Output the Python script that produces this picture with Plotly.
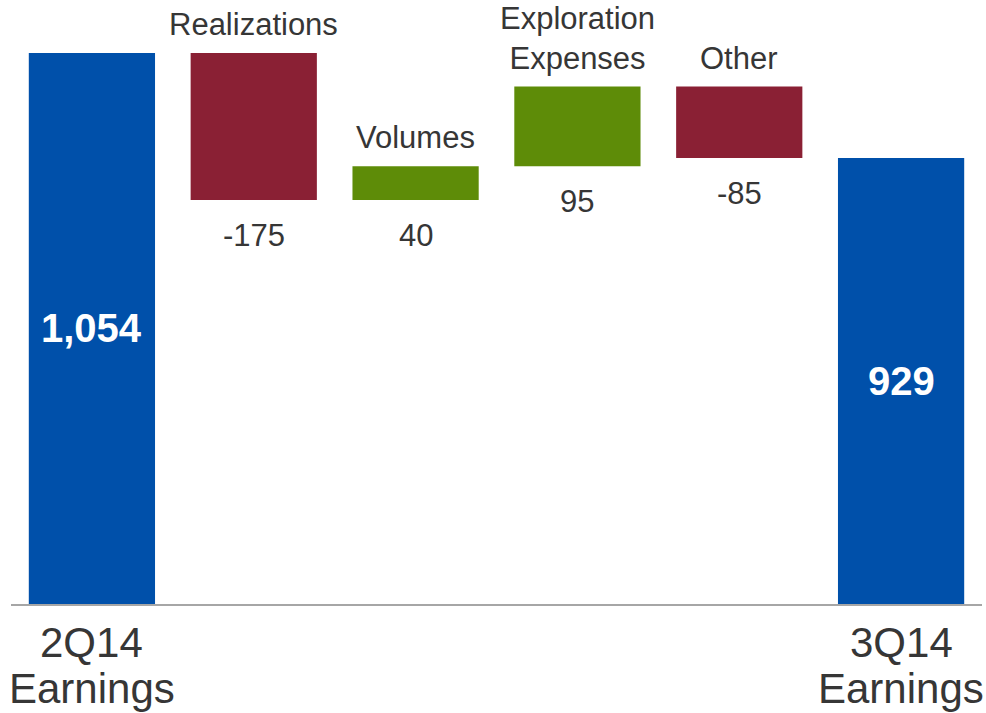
import plotly.graph_objects as go

# Earnings bridge, 2Q14 -> 3Q14 (millions)
categories = ["2Q14 Earnings", "Realizations", "Volumes",
              "Exploration Expenses", "Other", "3Q14 Earnings"]
values = [1054, -175, 40, 95, -85, 929]
measures = ["absolute", "relative", "relative", "relative", "relative", "total"]
value_labels = ["1,054", "-175", "40", "95", "-85", "929"]
top_labels = ["", "Realizations", "Volumes", "Exploration<br>Expenses", "Other", ""]
axis_labels = [("2Q14", "Earnings"), None, None, None, None, ("3Q14", "Earnings")]

# value axis is cut off below zero to emphasise the changes
y_range = [398, 1117]

BLUE = "#0050AA"
RED = "#8A2034"
GREEN = "#5E8C08"
TEXT = "#363636"
FONT = "Liberation Sans, Arial, sans-serif"

fig = go.Figure(go.Waterfall(
    x=categories,
    y=values,
    measure=measures,
    increasing=dict(marker=dict(color=GREEN)),
    decreasing=dict(marker=dict(color=RED)),
    totals=dict(marker=dict(color=BLUE)),
    connector=dict(visible=False),
    textinfo="none",
    hoverinfo="x+y",
))

annotations = []
running = 0
for cat, val, meas, vlab, tlab, alab in zip(categories, values, measures,
                                            value_labels, top_labels, axis_labels):
    if meas == "absolute":
        running = val
        high = running
    elif meas == "total":
        high = running
    else:
        start = running
        running += val
        low, high = min(start, running), max(start, running)

    if meas in ("absolute", "total"):
        # value printed in the middle of the visible part of the column
        annotations.append(dict(
            x=cat, y=(high + y_range[0]) / 2, text=f"<b>{vlab}</b>",
            showarrow=False, yanchor="middle",
            font=dict(family=FONT, size=40, color="white")))
        first, second = alab
        annotations.append(dict(
            x=cat, y=0, yref="paper", text=first, showarrow=False,
            yanchor="middle", yshift=-38,
            font=dict(family=FONT, size=42, color=TEXT)))
        annotations.append(dict(
            x=cat, y=0, yref="paper", text=second, showarrow=False,
            yanchor="middle", yshift=-84,
            font=dict(family=FONT, size=42, color=TEXT)))
    else:
        annotations.append(dict(
            x=cat, y=high, text=tlab, showarrow=False,
            yanchor="bottom", yshift=9,
            font=dict(family=FONT, size=31, color=TEXT)))
        annotations.append(dict(
            x=cat, y=low, text=vlab, showarrow=False,
            yanchor="top", yshift=-16,
            font=dict(family=FONT, size=31, color=TEXT)))

fig.update_layout(
    width=986, height=713,
    margin=dict(l=11, r=4, t=0, b=109),
    paper_bgcolor="white", plot_bgcolor="white",
    showlegend=False,
    waterfallgap=0.22,
    annotations=annotations,
    xaxis=dict(range=[-0.5, 5.5], showline=True, linecolor="#A6A6A6",
               linewidth=2, showticklabels=False, ticks="", showgrid=False,
               zeroline=False),
    yaxis=dict(range=y_range, visible=False, showgrid=False, zeroline=False),
)

fig.write_html("out.html")
